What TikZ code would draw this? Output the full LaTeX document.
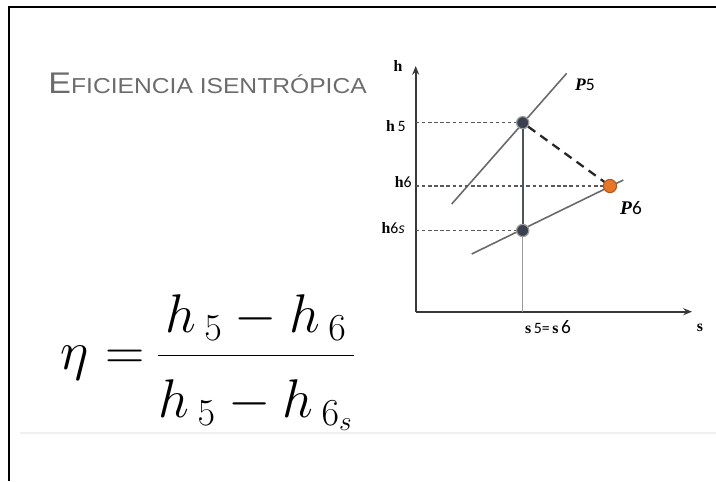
\documentclass[tikz,border=0pt]{standalone}
\usepackage{fix-cm}
\usepackage{amsmath}
\usepackage{fontspec}
\usetikzlibrary{arrows.meta, positioning, calc}
\newfontfamily\arialfont{Liberation Sans}
\newfontfamily\calfont{Carlito}
\newfontfamily\timesfont{Liberation Serif}
\definecolor{titlegray}{RGB}{108,108,108}
\definecolor{slatept}{RGB}{58,64,78}
\definecolor{orangept}{RGB}{232,118,40}
\definecolor{linegray}{RGB}{105,105,105}
\definecolor{edgegray}{RGB}{240,240,240}
\tikzset{
  framebar/.style={line width=1.2pt,color=black},
  axisline/.style={-{Stealth[length=5pt,width=4pt]},line width=1.1pt,color=black!78},
  isobar/.style={line width=0.9pt,color=linegray},
  guideline/.style={line width=0.85pt,dash pattern=on 2pt off 1.5pt,color=black!65},
  expline/.style={line width=1.3pt,dash pattern=on 5pt off 3.5pt,color=black!85},
  isoline/.style={line width=1.1pt,color=slatept!90},
  dropline/.style={line width=0.4pt,color=gray!80},
  statept/.style={circle,draw=gray!75,fill=slatept,line width=0.7pt,minimum size=7pt,inner sep=0pt},
  realpt/.style={circle,draw=orangept!75!black,fill=orangept,line width=0.6pt,minimum size=7.5pt,inner sep=0pt},
  axlabel/.style={inner sep=0pt,font=\fontsize{9}{10}\selectfont},
  titletext/.style={inner sep=0pt,text=titlegray,font=\arialfont},
  mathpart/.style={inner sep=0pt,anchor=base west,font=\fontsize{31}{36}\selectfont}
}
\newcommand{\bh}{{\timesfont\bfseries h}}
\newcommand{\bs}{{\timesfont\bfseries s}}
\newcommand{\cn}[1]{{\calfont #1}}
\newcommand{\bP}{{\timesfont\bfseries\itshape P}}

\begin{document}
\begin{tikzpicture}[x=0.02cm,y=-0.02cm]
  \useasboundingbox (0,0) rectangle (716,481);

  %% Frame of the figure
  \draw[framebar] (9,481) -- (9,7) -- (716,7);
  \draw[edgegray,line width=0.6pt] (20,433) -- (716,433);

  %% Title
  \node[titletext,anchor=base west,xscale=1.14,transform shape] (title) at (48,93)
      {{\fontsize{17}{19}\selectfont E}{\fontsize{12.3}{14}\selectfont FICIENCIA ISENTRÓPICA}};

  %% Efficiency formula
  \node[mathpart] (eta) at (60,369) {$\eta$};
  \node[mathpart] (eq) at (105,369) {$=$};
  \node[mathpart] (frac) at (156,369)
      {$\dfrac{h_{\mkern4mu 5} - h_{\mkern4mu 6}}{\rule{0pt}{1.02em}h_{\mkern4mu 5} - h_{\mkern4mu 6_s}}$};

  %% Axes
  \coordinate (origin) at (415.7,311.7);
  \coordinate (ytop) at (415.7,66);
  \coordinate (xend) at (692,311.7);
  \draw[axisline] (origin) -- (ytop);
  \draw[axisline] (origin) -- (xend);

  %% Isobars
  \coordinate (a1) at (451.7,204);
  \coordinate (a2) at (566.7,73.3);
  \coordinate (b1) at (471.7,254);
  \coordinate (b2) at (623.3,180);
  \draw[isobar] (a1) -- (a2);
  \draw[isobar] (b1) -- (b2);

  %% States
  \node[statept] (p5) at (522.7,122.7) {};
  \node[statept] (p6s) at (522.7,230.5) {};
  \node[realpt] (p6) at (610,186) {};

  %% Guides to the h axis
  \draw[guideline] (origin |- p5) -- (p5);
  \draw[guideline] (origin |- p6) -- (p6);
  \draw[guideline] (origin |- p6s) -- (p6s);

  %% Expansion paths
  \draw[dropline] (p6s) -- (p6s |- origin);
  \draw[isoline] (p5) -- (p6s);
  \draw[expline] (p5) -- (p6);

  %% Labels
  \node[axlabel] (hlbl) at (398,66) {\bh};
  \node[axlabel] (slbl) at (700,328) {\bs};
  \node[axlabel,anchor=east] (h5lbl) at (406,126) {\bh\,\cn{5}};
  \node[axlabel,anchor=east] (h6lbl) at (412,182) {\bh\cn{6}};
  \node[axlabel,anchor=east] (h6slbl) at (405,228) {\bh\cn{6}{\calfont\itshape s}};
  \node[axlabel] (s56lbl) at (548,327) {\bs\,\cn{5=}\,\bs\,\cn{\fontsize{11}{12}\selectfont 6}};
  \node[axlabel,font=\fontsize{10}{12}\selectfont] (p5lbl) at (585,85) {\bP\cn{5}};
  \node[axlabel,font=\fontsize{11}{12}\selectfont] (p6lbl) at (631,208) {\bP\cn{6}};
\end{tikzpicture}
\end{document}
